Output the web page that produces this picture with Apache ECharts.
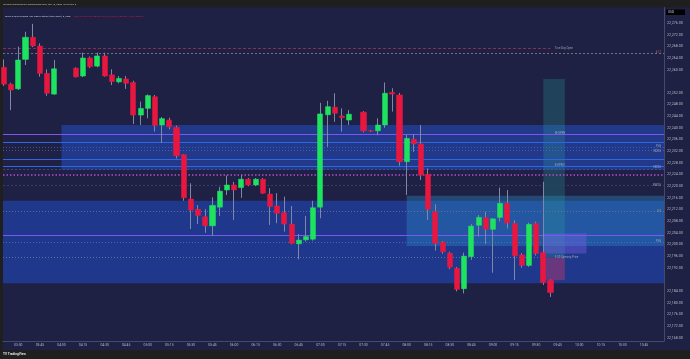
<!DOCTYPE html>
<html><head><meta charset="utf-8">
<script src="https://cdn.jsdelivr.net/npm/echarts@6/dist/echarts.min.js"></script>
<style>html,body{margin:0;padding:0;background:#1f1f1f}#c{width:690px;height:359px}</style>
</head><body><div id="c"></div>
<script>
// ---- candle data (5-minute bars, MNQ) ----
const times = ['03:20','03:25','03:30','03:35','03:40','03:45','03:50','03:55',
  '04:10','04:15','04:20','04:25','04:30','04:35','04:40','04:45','04:50','04:55',
  '05:00','05:05','05:10','05:15','05:20','05:25','05:30','05:35','05:40','05:45','05:50','05:55',
  '06:00','06:05','06:10','06:15','06:20','06:25','06:30','06:35','06:40','06:45','06:50','06:55',
  '07:00','07:05','07:10','07:15','07:20','07:30','07:35','07:40','07:45','07:50','07:55',
  '08:00','08:05','08:10','08:15','08:20','08:25','08:30','08:35','08:40','08:45','08:50','08:55',
  '09:00','09:05','09:10','09:15','09:20','09:25','09:30','09:35','09:40'];
const opens = [22260.8,22255.0,22253.4,22263.5,22271.1,22268.1,22258.7,22251.6,
  22260.5,22257.8,22264.0,22261.2,22264.7,22258.2,22255.8,22256.8,22255.6,22244.4,
  22246.7,22250.7,22241.0,22242.7,22240.2,22230.8,22215.6,22212.1,22209.5,22206.4,22212.8,22218.7,
  22220.4,22219.5,22222.4,22220.4,22222.4,22217.3,22213.2,22210.9,22207.0,22200.2,22201.6,22201.8,
  22212.8,22244.5,22247.1,22244.1,22242.7,22245.4,22239.0,22239.0,22241.0,22252.2,22251.3,
  22228.4,22236.1,22234.5,22224.1,22211.2,22200.8,22197.0,22191.8,22184.8,22195.8,22206.6,22209.2,
  22205.2,22209.3,22214.1,22207.2,22196.4,22192.8,22207.2,22197.2,22187.75];
const closes = [22255.0,22253.0,22263.3,22271.1,22268.1,22258.7,22251.9,22260.3,
  22257.5,22264.0,22261.0,22264.7,22257.8,22255.9,22257.0,22255.3,22244.4,22246.7,
  22251.1,22240.8,22243.2,22240.4,22230.4,22216.0,22211.8,22209.9,22206.4,22213.4,22218.3,22220.4,
  22218.7,22222.4,22220.4,22222.4,22217.6,22213.0,22210.7,22207.0,22200.4,22201.5,22202.7,22212.6,
  22244.8,22247.3,22245.0,22243.5,22244.7,22239.0,22238.9,22241.0,22251.9,22251.6,22228.4,
  22236.4,22234.5,22223.8,22212.1,22200.4,22197.5,22192.2,22184.6,22196.0,22206.3,22209.3,22205.2,
  22208.8,22214.1,22207.4,22196.1,22192.8,22206.9,22196.9,22186.9,22183.5];
const lows = [22254.4,22246.1,22253.0,22261.6,22267.7,22257.6,22251.0,22251.3,
  22257.3,22257.4,22260.5,22260.8,22257.6,22254.7,22255.3,22253.4,22241.3,22241.0,
  22243.3,22238.7,22234.8,22239.5,22229.5,22215.0,22205.3,22207.0,22204.0,22202.9,22209.8,22217.0,
  22208.4,22216.0,22220.0,22220.0,22217.3,22206.7,22207.3,22204.4,22200.1,22194.9,22201.0,22201.3,
  22209.0,22233.5,22242.1,22238.7,22241.0,22238.5,22238.6,22237.5,22240.0,22245.6,22227.0,
  22217.0,22231.8,22222.1,22208.4,22197.9,22196.8,22191.5,22183.9,22183.2,22194.7,22202.7,22200.2,
  22190.3,22207.9,22205.5,22187.8,22192.0,22192.3,22196.2,22186.1,22182.0];
const highs = [22263.5,22255.5,22267.9,22273.0,22275.7,22269.0,22260.1,22263.3,
  22260.8,22265.8,22264.5,22265.8,22265.8,22260.1,22257.8,22257.8,22256.2,22249.0,
  22251.5,22251.3,22243.7,22243.5,22240.8,22231.0,22221.0,22213.5,22212.1,22216.2,22219.8,22223.7,
  22221.5,22223.8,22222.8,22222.8,22222.8,22219.3,22217.6,22216.4,22213.2,22203.6,22209.8,22215.0,
  22248.6,22249.3,22251.9,22246.7,22246.1,22245.8,22239.3,22243.3,22255.6,22253.6,22252.0,
  22237.6,22237.9,22241.0,22226.1,22213.8,22201.2,22197.5,22192.3,22197.2,22207.0,22210.1,22211.2,
  22209.0,22219.5,22218.7,22208.3,22197.0,22207.5,22207.8,22221.5,22188.0];

// ---- axis tick labels ----
const timeTicks = ['03:30','03:45','04:00','04:15','04:30','04:45','05:00','05:15','05:30','05:45',
  '06:00','06:15','06:30','06:45','07:00','07:15','07:30','07:45','08:00','08:15','08:30','08:45',
  '09:00','09:15','09:30','09:45','10:00','10:15','10:30','10:45'];
const priceTicks = [22168,22172,22176,22180,22184,22192,22196,22200,22204,22208,22212,22216,22220,
  22224,22228,22232,22236,22240,22244,22248,22252,22260,22264,22268,22272,22276];

// ---- annotation levels (prices) ----
const trueDayOpen = 22267.3;
const grayLevel = 22265.6;
const upperZone = [22241.0, 22225.6];
const lowerZone = [22215.0, 22186.7];
const fvgZone = [22216.7, 22199.5];
const purpleLevels = [22237.8, 22203.0];
const blueLevels = [22235.1, 22229.3, 22226.7];
const ndogLevels = [22233.4, 22232.5, 22225.8];
const magentaLevel = 22223.9;
const nwogLevel = 22220.4;
const halfLevel = 22211.4;
const lowBlueLevel = 22200.7;
const openPriceLevel = 22195.5;
const targetPrice = 22256.75, entryPrice = 22195.50, stopPrice = 22187.75, lastPrice = 22183.50;
const openBox = [22203.8, 22196.9];

const toMin = s => { const p = s.split(':'); return +p[0] * 60 + +p[1]; };
const fmtTime = v => { const h = Math.floor(v / 60), m = Math.round(v % 60); return (h < 10 ? '0' : '') + h + ':' + (m < 10 ? '0' : '') + m; };
const fmtPrice = v => v.toLocaleString('en-US', {minimumFractionDigits: 2, maximumFractionDigits: 2});

const X_MIN = 199.36, X_MAX = 658.9, Y_MIN = 22166.87, Y_MAX = 22281.32;

const wickData = times.map((t, i) => [toMin(t), opens[i], closes[i], lows[i], highs[i]]);
const bodyData = times.map((t, i) => [toMin(t), opens[i], closes[i], Math.min(opens[i], closes[i]), Math.max(opens[i], closes[i])]);

const UP = '#1ee35f', DOWN = '#e8173f', WICK = '#7f87a6';
const lab = {color: '#b7bac6', fontSize: 2.8, fontFamily: 'Roboto'};

function hLine(v, color, type, width) {
  return {yAxis: v, lineStyle: {color: color, type: type, width: width || 1}, label: {show: false}};
}
function badge(v, bg, fg) {
  return {yAxis: v, lineStyle: {width: 0, opacity: 0},
    label: {show: true, position: 'end', distance: 2, formatter: fmtPrice(v), backgroundColor: bg, color: fg || '#ffffff',
      fontSize: 3.6, fontFamily: 'Roboto', padding: [1.2, 2.5, 1.2, 2.5]}};
}

const textPoints = [
  {value: [toMin('09:43'), trueDayOpen], label: {formatter: 'True Day Open', position: 'right', distance: 0}},
  {value: [toMin('09:43'), purpleLevels[0] + 0.5], label: {formatter: 'M-OPEN', position: 'right', distance: 0}},
  {value: [toMin('09:43'), blueLevels[2] + 0.5], label: {formatter: '8-OPEN', position: 'right', distance: 0}},
  {value: [toMin('09:43'), openPriceLevel], label: {formatter: '9:30 Opening Price', position: 'right', distance: 0}},
  {value: [X_MAX - 2, ndogLevels[0] + 0.4], label: {formatter: 'FVG', position: 'left', distance: 0}},
  {value: [X_MAX - 2, ndogLevels[1] - 0.6], label: {formatter: 'NDOG', position: 'left', distance: 0}},
  {value: [X_MAX - 2, ndogLevels[2] + 0.8], label: {formatter: 'NDOG', position: 'left', distance: 0}},
  {value: [X_MAX - 2, nwogLevel], label: {formatter: 'NWOG', position: 'left', distance: 0}},
  {value: [X_MAX - 2, halfLevel], label: {formatter: '0.5', position: 'left', distance: 0, color: '#c9b36a'}},
  {value: [X_MAX - 2, purpleLevels[1] - 2], label: {formatter: 'FVG', position: 'left', distance: 0}},
  {value: [X_MAX - 2, grayLevel + 0.3], label: {formatter: '6.11', position: 'left', distance: 0, color: '#ff7a45'}}
];

const chart = echarts.init(document.getElementById('c'), null, {renderer: 'canvas'});
chart.setOption({
  backgroundColor: '#1f1f1f',
  animation: false,
  graphic: [
    {type: 'rect', shape: {x: 3, y: 7.5, width: 687, height: 342.5}, style: {fill: '#1e2144'}, z: -10, silent: true},
    {type: 'text', left: 3, top: 2.6, style: {text: 'ICTJosh published on TradingView.com, Feb 13, 2025 13:40 UTC-5', fill: '#c8c8c8', fontSize: 2.5, fontFamily: 'Roboto'}, z: 10},
    {type: 'text', left: 5, top: 10.5, style: {
      text: '{a|Micro E-mini Nasdaq-100 Index Futures (Mar 2025), 5, CME} {b|O22,187.75 H22,189.75 L22,175.75 C22,183.50 \u22124.25 (\u22120.02%)}',
      rich: {a: {fill: '#d0d3dc', fontSize: 2.5, fontFamily: 'Roboto'}, b: {fill: '#e8173f', fontSize: 2.5, fontFamily: 'Roboto'}}}, z: 10},
    {type: 'rect', shape: {x: 666, y: 9.5, width: 19, height: 5.5}, style: {fill: '#000000'}, z: 10},
    {type: 'text', left: 668, top: 10.5, style: {text: 'USD', fill: '#d0d0d0', fontSize: 3.2, fontFamily: 'Roboto'}, z: 11},
    {type: 'text', left: 3, top: 352.5, style: {text: 'TV TradingView', fill: '#e0e0e0', fontSize: 3.2, fontWeight: 'bold', fontFamily: 'Roboto'}, z: 10}
  ],
  grid: {left: 3, right: 26, top: 7.5, bottom: 18, show: false},
  xAxis: {
    type: 'value', min: X_MIN, max: X_MAX,
    axisLine: {show: true, lineStyle: {color: '#454a6a', width: 1}},
    axisTick: {show: false}, splitLine: {show: false},
    axisLabel: {customValues: timeTicks.map(toMin), formatter: v => fmtTime(v), color: '#b7bac6', fontSize: 3.4, fontFamily: 'Roboto', margin: 2.5}
  },
  yAxis: {
    type: 'value', position: 'right', min: Y_MIN, max: Y_MAX, scale: true,
    axisLine: {show: true, lineStyle: {color: '#454a6a', width: 1}},
    axisTick: {show: false}, splitLine: {show: false},
    axisLabel: {customValues: priceTicks, formatter: v => fmtPrice(v), color: '#b7bac6', fontSize: 3.6, fontFamily: 'Roboto', margin: 3}
  },
  series: [
    {
      type: 'line', data: [], z: 1, silent: true,
      markArea: {silent: true, z: 0, data: [
        [{xAxis: toMin('04:00'), yAxis: upperZone[0], itemStyle: {color: '#22398a'}}, {xAxis: X_MAX, yAxis: upperZone[1]}],
        [{xAxis: X_MIN, yAxis: lowerZone[0], itemStyle: {color: '#20388b'}}, {xAxis: X_MAX, yAxis: lowerZone[1]}],
        [{xAxis: toMin('08:00'), yAxis: fvgZone[0], itemStyle: {color: 'rgba(45,145,205,0.35)'}}, {xAxis: X_MAX, yAxis: fvgZone[1]}],
        [{xAxis: toMin('09:35'), yAxis: targetPrice, itemStyle: {color: 'rgba(38,166,154,0.25)'}}, {xAxis: toMin('09:50'), yAxis: entryPrice}],
        [{xAxis: toMin('09:36'), yAxis: entryPrice, itemStyle: {color: 'rgba(242,54,100,0.35)'}}, {xAxis: toMin('09:50'), yAxis: stopPrice}],
        [{xAxis: toMin('09:35'), yAxis: openBox[0], itemStyle: {color: 'rgba(125,95,235,0.4)'}}, {xAxis: toMin('10:05'), yAxis: openBox[1]}]
      ]}
    },
    {
      type: 'line', data: [], z: 1, silent: true,
      markLine: {silent: true, z: 1, symbol: ['none', 'none'], data: [
        [{coord: [X_MIN, trueDayOpen], lineStyle: {color: '#8b2d52', type: [3, 2], width: 1}, label: {show: false}}, {coord: [toMin('09:40'), trueDayOpen]}],
        hLine(grayLevel, '#6e7288', [2, 2], 1),
        hLine(purpleLevels[0], '#7a56f5', 'solid', 1),
        hLine(blueLevels[0], '#2f66e6', 'solid', 1),
        hLine(ndogLevels[0], '#4f6fc4', [1, 2], 0.7),
        hLine(ndogLevels[1], '#4f6fc4', [1, 2], 0.7),
        hLine(blueLevels[1], '#2f66e6', 'solid', 1),
        hLine(blueLevels[2], '#2f66e6', 'solid', 1),
        hLine(ndogLevels[2], '#555b80', [2, 2], 0.7),
        hLine(magentaLevel, '#b84ad0', [1.5, 2], 1.5),
        hLine(nwogLevel, '#383d66', [2, 2], 1),
        hLine(halfLevel, '#6f7695', [1, 2], 0.8),
        hLine(purpleLevels[1], '#7a56f5', 'solid', 1.2),
        hLine(lowBlueLevel, '#4a74d6', [1, 2], 0.8),
        [{coord: [X_MIN, openPriceLevel], lineStyle: {color: '#6d7bb0', type: [1, 2], width: 0.8}, label: {show: false}}, {coord: [toMin('09:34'), openPriceLevel]}],
        badge(targetPrice, '#1f9c8c'),
        badge(entryPrice, '#9ea3b5', '#1e2144'),
        badge(stopPrice, '#e8173f'),
        badge(lastPrice, '#e8173f')
      ]}
    },
    {
      type: 'candlestick', z: 2, silent: true, barWidth: 0.1, data: wickData,
      itemStyle: {color: WICK, color0: WICK, borderColor: WICK, borderColor0: WICK, borderWidth: 1}
    },
    {
      type: 'candlestick', z: 3, silent: true, barWidth: 5.6, data: bodyData,
      itemStyle: {color: UP, color0: DOWN, borderColor: UP, borderColor0: DOWN, borderWidth: 0.5}
    },
    {
      type: 'scatter', z: 4, silent: true, symbolSize: 0, data: textPoints,
      label: Object.assign({show: true}, lab)
    }
  ]
});
</script>
</body></html>
